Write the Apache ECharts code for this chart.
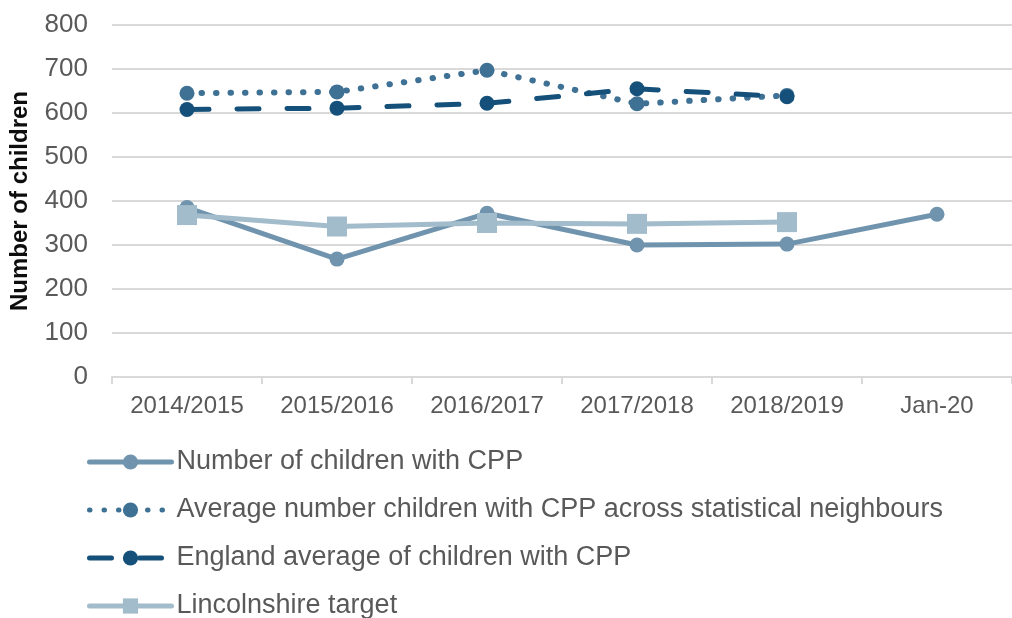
<!DOCTYPE html>
<html>
<head>
<meta charset="utf-8">
<script src="https://cdn.jsdelivr.net/npm/echarts@6/dist/echarts.min.js"></script>
<style>
  html, body { margin: 0; padding: 0; background: #ffffff; }
  #chart { width: 1012px; height: 618px; }
</style>
</head>
<body>
<div id="chart"></div>
<script>
// Reporting periods on the category axis
const periods = ['2014/2015', '2015/2016', '2016/2017', '2017/2018', '2018/2019', 'Jan-20'];

// Children subject to a child protection plan (CPP)
const childrenWithCpp = [385, 268, 372, 300, 302, 370];
const statNeighbourAvg = [645, 648, 697, 621, 640];
const englandAvg = [608, 611, 622, 655, 637];
const lincolnshireTarget = [368, 342, 350, 348, 352];

const seriesNames = [
  'Number of children with CPP',
  'Average number children with CPP across statistical neighbours',
  'England average of children with CPP',
  'Lincolnshire target'
];

const FONT = '"Liberation Sans", Arial, sans-serif';
const GRID_GREY = '#d9d9d9';
const TEXT_GREY = '#595959';

const chart = echarts.init(document.getElementById('chart'), null, { renderer: 'canvas' });

function lineSeries(name, data, color, symbol, size, type, width) {
  return {
    name: name,
    type: 'line',
    data: data,
    symbol: symbol,
    symbolSize: size,
    showSymbol: true,
    animation: false,
    itemStyle: { color: color },
    lineStyle: { color: color, width: width, type: type, cap: 'round', join: 'round' },
    emphasis: { disabled: true }
  };
}

chart.setOption({
  animation: false,
  textStyle: { fontFamily: FONT },
  grid: { left: 111, top: 25, width: 908, height: 352, containLabel: false },
  xAxis: {
    type: 'category',
    data: periods,
    boundaryGap: true,
    axisLine: { lineStyle: { color: GRID_GREY, width: 2 } },
    axisTick: { show: true, length: 7, lineStyle: { color: GRID_GREY, width: 2 } },
    axisLabel: { color: TEXT_GREY, fontSize: 24, margin: 17, fontFamily: FONT, interval: 0 },
    splitLine: { show: false }
  },
  yAxis: {
    type: 'value',
    min: 0,
    max: 800,
    interval: 100,
    name: 'Number of children',
    nameLocation: 'middle',
    nameRotate: 90,
    nameGap: 80,
    nameTextStyle: { color: '#0d0d0d', fontSize: 24, fontWeight: 'bold', fontFamily: FONT },
    axisLine: { show: false },
    axisTick: { show: false },
    axisLabel: { color: TEXT_GREY, fontSize: 26, margin: 24, fontFamily: FONT },
    splitLine: { lineStyle: { color: GRID_GREY, width: 2 } }
  },
  legend: {
    orient: 'vertical',
    left: 87,
    top: 447,
    height: 300,
    padding: 0,
    itemWidth: 82,
    itemHeight: 19,
    itemGap: 18,
    selectedMode: false,
    data: seriesNames,
    lineStyle: { width: 5 },
    textStyle: { color: TEXT_GREY, fontSize: 27, lineHeight: 30, fontFamily: FONT }
  },
  series: [
    lineSeries(seriesNames[0], childrenWithCpp, '#7094ae', 'circle', 15, 'solid', 5),
    lineSeries(seriesNames[1], statNeighbourAvg, '#3e7194', 'circle', 15, [0.5, 14], 6),
    lineSeries(seriesNames[2], englandAvg, '#15507a', 'circle', 15, [22, 28], 5),
    lineSeries(seriesNames[3], lincolnshireTarget, '#a2bccb', 'rect', 20, 'solid', 5)
  ]
});
</script>
</body>
</html>
